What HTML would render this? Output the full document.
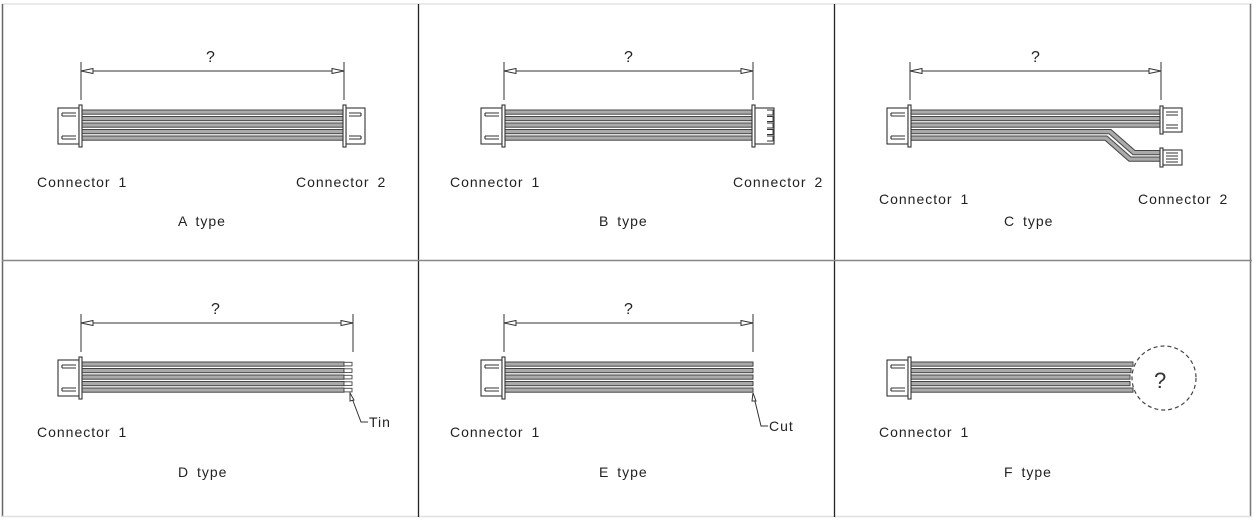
<!DOCTYPE html>
<html><head><meta charset="utf-8"><style>
html,body{margin:0;padding:0;background:#fff;}
svg{display:block;}
text{font-family:"Liberation Sans",sans-serif;font-size:14px;fill:#222;word-spacing:3px;letter-spacing:1px;}
text.q{font-size:16px;letter-spacing:0;}
</style></head><body>
<svg width="1254" height="525" viewBox="0 0 1254 525" xmlns="http://www.w3.org/2000/svg">
<defs>
  <g id="connL" fill="#fff" stroke="#333" stroke-width="1.1">
    <rect x="-23" y="-18" width="21" height="36"/>
    <rect x="-2" y="-21" width="3" height="42"/>
    <path d="M-19,-13 h14 M-19,-10 h14 M-19,13 h14 M-19,10 h14" stroke-width="0.9"/>
    <path d="M-19,-13 v3 M-19,10 v3"/>
  </g>
  <g id="connR" fill="#fff" stroke="#333" stroke-width="1.1">
    <rect x="2" y="-18" width="19" height="36"/>
    <rect x="-1" y="-21" width="3" height="42"/>
    <path d="M5,-13 h12 M5,-10 h12 M5,13 h12 M5,10 h12" stroke-width="0.9"/>
    <path d="M17,-13 v3 M17,10 v3"/>
  </g>
  <g id="arrowL"><path d="M0,0 l12,-2.5 v5 z" fill="#fff" stroke="#333" stroke-width="1"/></g>
  <g id="arrowR"><path d="M0,0 l-12,-2.5 v5 z" fill="#fff" stroke="#333" stroke-width="1"/></g>
</defs>

<line x1="2" y1="4" x2="1252" y2="4" stroke="#e4e4e4" stroke-width="1.5"/>
<line x1="2.5" y1="4" x2="2.5" y2="517" stroke="#666" stroke-width="1.5"/>
<line x1="1250.5" y1="4" x2="1250.5" y2="517" stroke="#777" stroke-width="1.5"/>
<line x1="2" y1="516.5" x2="1252" y2="516.5" stroke="#e0e0e0" stroke-width="1.5"/>
<line x1="418.5" y1="4" x2="418.5" y2="517" stroke="#222" stroke-width="1.3"/>
<line x1="834.5" y1="4" x2="834.5" y2="517" stroke="#222" stroke-width="1.3"/>
<line x1="2" y1="260.5" x2="1252" y2="260.5" stroke="#888" stroke-width="1.6"/>

<g stroke="#333" stroke-width="1" fill="none">
<line x1="81" y1="62" x2="81" y2="100"/><line x1="344" y1="62" x2="344" y2="100"/>
<line x1="81" y1="71" x2="344" y2="71"/>
<line x1="504" y1="62" x2="504" y2="100"/><line x1="753" y1="62" x2="753" y2="100"/>
<line x1="504" y1="71" x2="753" y2="71"/>
<line x1="910" y1="62" x2="910" y2="100"/><line x1="1161" y1="62" x2="1161" y2="100"/>
<line x1="910" y1="71" x2="1161" y2="71"/>
<line x1="81" y1="314" x2="81" y2="352"/><line x1="353" y1="314" x2="353" y2="352"/>
<line x1="81" y1="323" x2="353" y2="323"/>
<line x1="504" y1="314" x2="504" y2="352"/><line x1="753" y1="314" x2="753" y2="352"/>
<line x1="504" y1="323" x2="753" y2="323"/>
</g>
<use href="#arrowL" x="81" y="71"/><use href="#arrowR" x="344" y="71"/>
<use href="#arrowL" x="504" y="71"/><use href="#arrowR" x="753" y="71"/>
<use href="#arrowL" x="910" y="71"/><use href="#arrowR" x="1161" y="71"/>
<use href="#arrowL" x="81" y="323"/><use href="#arrowR" x="353" y="323"/>
<use href="#arrowL" x="504" y="323"/><use href="#arrowR" x="753" y="323"/>

<text class="q" x="206" y="62">?</text><text class="q" x="624" y="62">?</text><text class="q" x="1031" y="62">?</text>
<text class="q" x="211" y="314">?</text><text class="q" x="624" y="314">?</text>

<g fill="#aaa" stroke="#444" stroke-width="1">
<rect x="82" y="110" width="262" height="4.2"/><rect x="82" y="116.5" width="262" height="4.2"/><rect x="82" y="123" width="262" height="4.2"/><rect x="82" y="129.5" width="262" height="4.2"/><rect x="82" y="136" width="262" height="4.2"/>
<rect x="505" y="110" width="248" height="4.2"/><rect x="505" y="116.5" width="248" height="4.2"/><rect x="505" y="123" width="248" height="4.2"/><rect x="505" y="129.5" width="248" height="4.2"/><rect x="505" y="136" width="248" height="4.2"/>
<rect x="911" y="110" width="250" height="4.2"/><rect x="911" y="116.5" width="250" height="4.2"/><rect x="911" y="123" width="250" height="4.2"/>
<path d="M911,129.5 H1111 L1135,150.5 H1160 v4.2 H1133 L1109,133.7 H911 z"/>
<path d="M911,136 H1107 L1131,157 H1160 v4.2 H1129 L1105,140.2 H911 z"/>
<rect x="82" y="362" width="262" height="4.2"/><rect x="82" y="368.5" width="262" height="4.2"/><rect x="82" y="375" width="262" height="4.2"/><rect x="82" y="381.5" width="262" height="4.2"/><rect x="82" y="388" width="262" height="4.2"/>
<rect x="505" y="362" width="248" height="4.2"/><rect x="505" y="368.5" width="248" height="4.2"/><rect x="505" y="375" width="248" height="4.2"/><rect x="505" y="381.5" width="248" height="4.2"/><rect x="505" y="388" width="248" height="4.2"/>
<rect x="911" y="362" width="222" height="4.2"/><rect x="911" y="368.5" width="220" height="4.2"/><rect x="911" y="375" width="219" height="4.2"/><rect x="911" y="381.5" width="219" height="4.2"/><rect x="911" y="388" width="222" height="4.2"/>
</g>
<g fill="#fff" stroke="#444" stroke-width="0.9">
<rect x="344" y="362.3" width="8" height="3.6"/><rect x="344" y="368.8" width="8" height="3.6"/><rect x="344" y="375.3" width="8" height="3.6"/><rect x="344" y="381.8" width="8" height="3.6"/><rect x="344" y="388.3" width="8" height="3.6"/>
</g>

<use href="#connL" x="81" y="126"/><use href="#connR" x="344" y="126"/>
<use href="#connL" x="504" y="126"/>
<g fill="#fff" stroke="#333" stroke-width="1.1">
<rect x="752" y="105" width="3" height="42"/><rect x="755" y="108" width="19" height="36"/>
<path d="M767,110 h6 v5 h-6 M767,116.5 h6 v5 h-6 M767,123 h6 v5 h-6 M767,129.5 h6 v5 h-6 M767,136 h6 v5 h-6" stroke-width="0.9"/>
</g>
<use href="#connL" x="910" y="126"/>
<g fill="#fff" stroke="#333" stroke-width="1.1">
<rect x="1160" y="106" width="3" height="28"/><rect x="1163" y="108" width="19" height="24"/>
<path d="M1166,112 h12 M1166,115 h12 M1166,125 h12 M1166,128 h12" stroke-width="0.9"/>
<rect x="1160" y="148" width="3" height="19"/><rect x="1163" y="150" width="19" height="15"/>
<path d="M1166,153 h12 M1166,156 h12 M1166,159 h12 M1166,162 h12" stroke-width="0.9"/>
</g>
<use href="#connL" x="81" y="378"/>
<use href="#connL" x="504" y="378"/>
<use href="#connL" x="910" y="378"/>

<g fill="none" stroke="#333" stroke-width="1">
<path d="M350,393 L361,422 H368"/>
<path d="M753,393 L761,426 H768"/>
</g>
<path d="M350,393 l0,8 l4,-1 z" fill="#fff" stroke="#333"/>
<path d="M753,393 l-1,8 l4,0 z" fill="#fff" stroke="#333"/>
<text x="369" y="427">Tin</text>
<text x="769" y="431">Cut</text>

<circle cx="1164" cy="378" r="32" fill="none" stroke="#444" stroke-width="1.2" stroke-dasharray="4,3"/>
<text x="1154" y="388" style="font-size:22px;fill:#333;letter-spacing:0">?</text>

<text x="37" y="187">Connector 1</text><text x="296" y="187">Connector 2</text>
<text x="450" y="187">Connector 1</text><text x="733" y="187">Connector 2</text>
<text x="879" y="204">Connector 1</text><text x="1138" y="204">Connector 2</text>
<text x="178" y="226">A type</text><text x="599" y="226">B type</text><text x="1004" y="226">C type</text>
<text x="37" y="437">Connector 1</text><text x="450" y="437">Connector 1</text><text x="879" y="437">Connector 1</text>
<text x="178" y="477">D type</text><text x="599" y="477">E type</text><text x="1004" y="477">F type</text>
</svg>
</body></html>
